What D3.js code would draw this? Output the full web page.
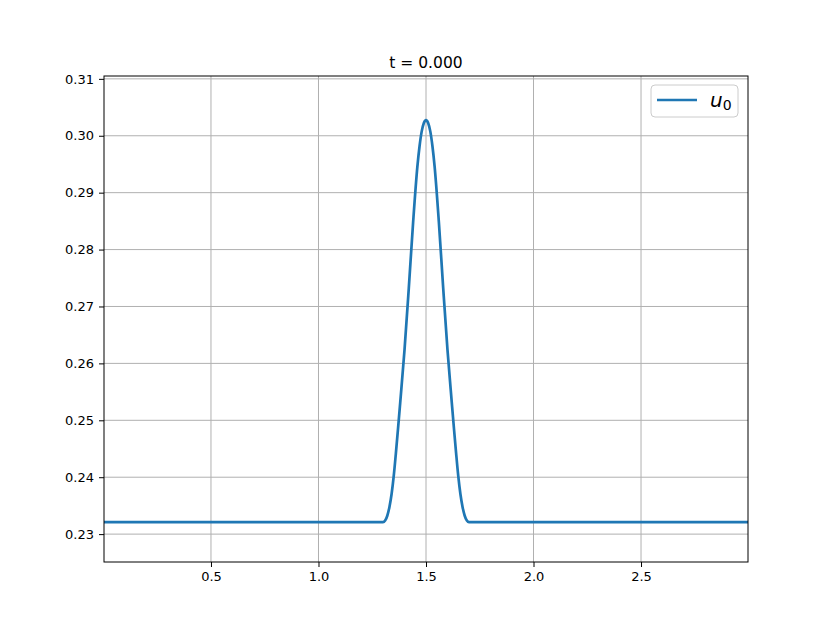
<html>

<head>
  <script src="https://d3js.org/d3.v7.min.js"></script>
  <style>
    body {
      margin: 0;
      background: white;
    }

    text {
      font-family: "DejaVu Sans", sans-serif;
    }
  </style>
</head>

<body>
  <div id="chart"></div>
</body>

<script>
  // data
  var xs = [0.0025, 1.30, 1.31, 1.32, 1.33, 1.34, 1.35, 1.36, 1.37, 1.38, 1.40, 1.42, 1.44, 1.46, 1.47, 1.48, 1.49, 1.50,
            1.51, 1.52, 1.53, 1.54, 1.56, 1.58, 1.60, 1.62, 1.63, 1.64, 1.65, 1.66, 1.67, 1.68, 1.69, 1.70, 2.9975];
  var u0 = [0.2321, 0.2321, 0.23238, 0.23323, 0.23478, 0.23705, 0.24022, 0.24425, 0.24856, 0.25308, 0.26234, 0.27322, 0.28473, 0.29463, 0.29816, 0.30077, 0.30226, 0.30275,
            0.30226, 0.30077, 0.29816, 0.29463, 0.28473, 0.27322, 0.26234, 0.25308, 0.24856, 0.24425, 0.24022, 0.23705, 0.23478, 0.23323, 0.23238, 0.2321, 0.2321];
  var xTicks = [0.5, 1.0, 1.5, 2.0, 2.5];
  var yTicks = [0.23, 0.24, 0.25, 0.26, 0.27, 0.28, 0.29, 0.30, 0.31];
  var title = "t = 0.000";

  var W = 831, H = 632;
  var axL = 104, axR = 748, axT = 76, axB = 562;

  var svg = d3.select("#chart").append("svg").attr("width", W).attr("height", H);

  var x = d3.scaleLinear().domain([0.0025, 2.9975]).range([axL, axR]);
  var y = d3.scaleLinear().domain([0.2251, 0.3105]).range([axB, axT]);

  // grid
  svg.append("g").selectAll("line").data(xTicks).enter().append("line")
    .attr("x1", function(d) { return x(d); }).attr("x2", function(d) { return x(d); })
    .attr("y1", axT).attr("y2", axB)
    .attr("stroke", "#b0b0b0").attr("stroke-width", 1);
  svg.append("g").selectAll("line").data(yTicks).enter().append("line")
    .attr("x1", axL).attr("x2", axR)
    .attr("y1", function(d) { return y(d); }).attr("y2", function(d) { return y(d); })
    .attr("stroke", "#b0b0b0").attr("stroke-width", 1);

  // curve
  var line = d3.line()
    .x(function(d, i) { return x(xs[i]); })
    .y(function(d) { return y(d); })
    .curve(d3.curveMonotoneX);

  svg.append("path").datum(u0)
    .attr("d", line)
    .attr("fill", "none")
    .attr("stroke", "#1f77b4")
    .attr("stroke-width", 2.7)
    .attr("stroke-linejoin", "round");

  // axes
  var xAxis = d3.axisBottom(x).tickValues(xTicks).tickFormat(d3.format(".1f")).tickSize(5).tickPadding(5);
  var yAxis = d3.axisLeft(y).tickValues(yTicks).tickFormat(d3.format(".2f")).tickSize(5).tickPadding(5);

  var gx = svg.append("g").attr("transform", "translate(0," + axB + ")").call(xAxis);
  var gy = svg.append("g").attr("transform", "translate(" + axL + ",0)").call(yAxis);
  [gx, gy].forEach(function(g) {
    g.select(".domain").remove();
    g.attr("font-size", null).attr("font-family", null);
    g.selectAll("text").style("font-family", "DejaVu Sans").style("font-size", "13px").attr("fill", "black");
    g.selectAll("line").attr("stroke", "black");
  });

  // spines
  svg.append("rect").attr("x", axL).attr("y", axT)
    .attr("width", axR - axL).attr("height", axB - axT)
    .attr("fill", "none").attr("stroke", "black").attr("stroke-width", 1);

  // title
  svg.append("text").attr("x", (axL + axR) / 2).attr("y", 68)
    .attr("text-anchor", "middle").style("font-size", "15.5px").text(title);

  // legend
  var lg = svg.append("g");
  lg.append("rect").attr("x", 651).attr("y", 85).attr("width", 87).attr("height", 32)
    .attr("rx", 4).attr("fill", "white").attr("fill-opacity", 0.8)
    .attr("stroke", "#cccccc").attr("stroke-width", 1);
  lg.append("line").attr("x1", 657).attr("x2", 697).attr("y1", 100).attr("y2", 100)
    .attr("stroke", "#1f77b4").attr("stroke-width", 2.7);
  var lt = lg.append("text").attr("x", 710).attr("y", 107).style("font-size", "20px");
  lt.append("tspan").attr("font-style", "italic").text("u");
  lt.append("tspan").style("font-size", "14px").attr("dy", 3).text("0");
</script>

</html>
